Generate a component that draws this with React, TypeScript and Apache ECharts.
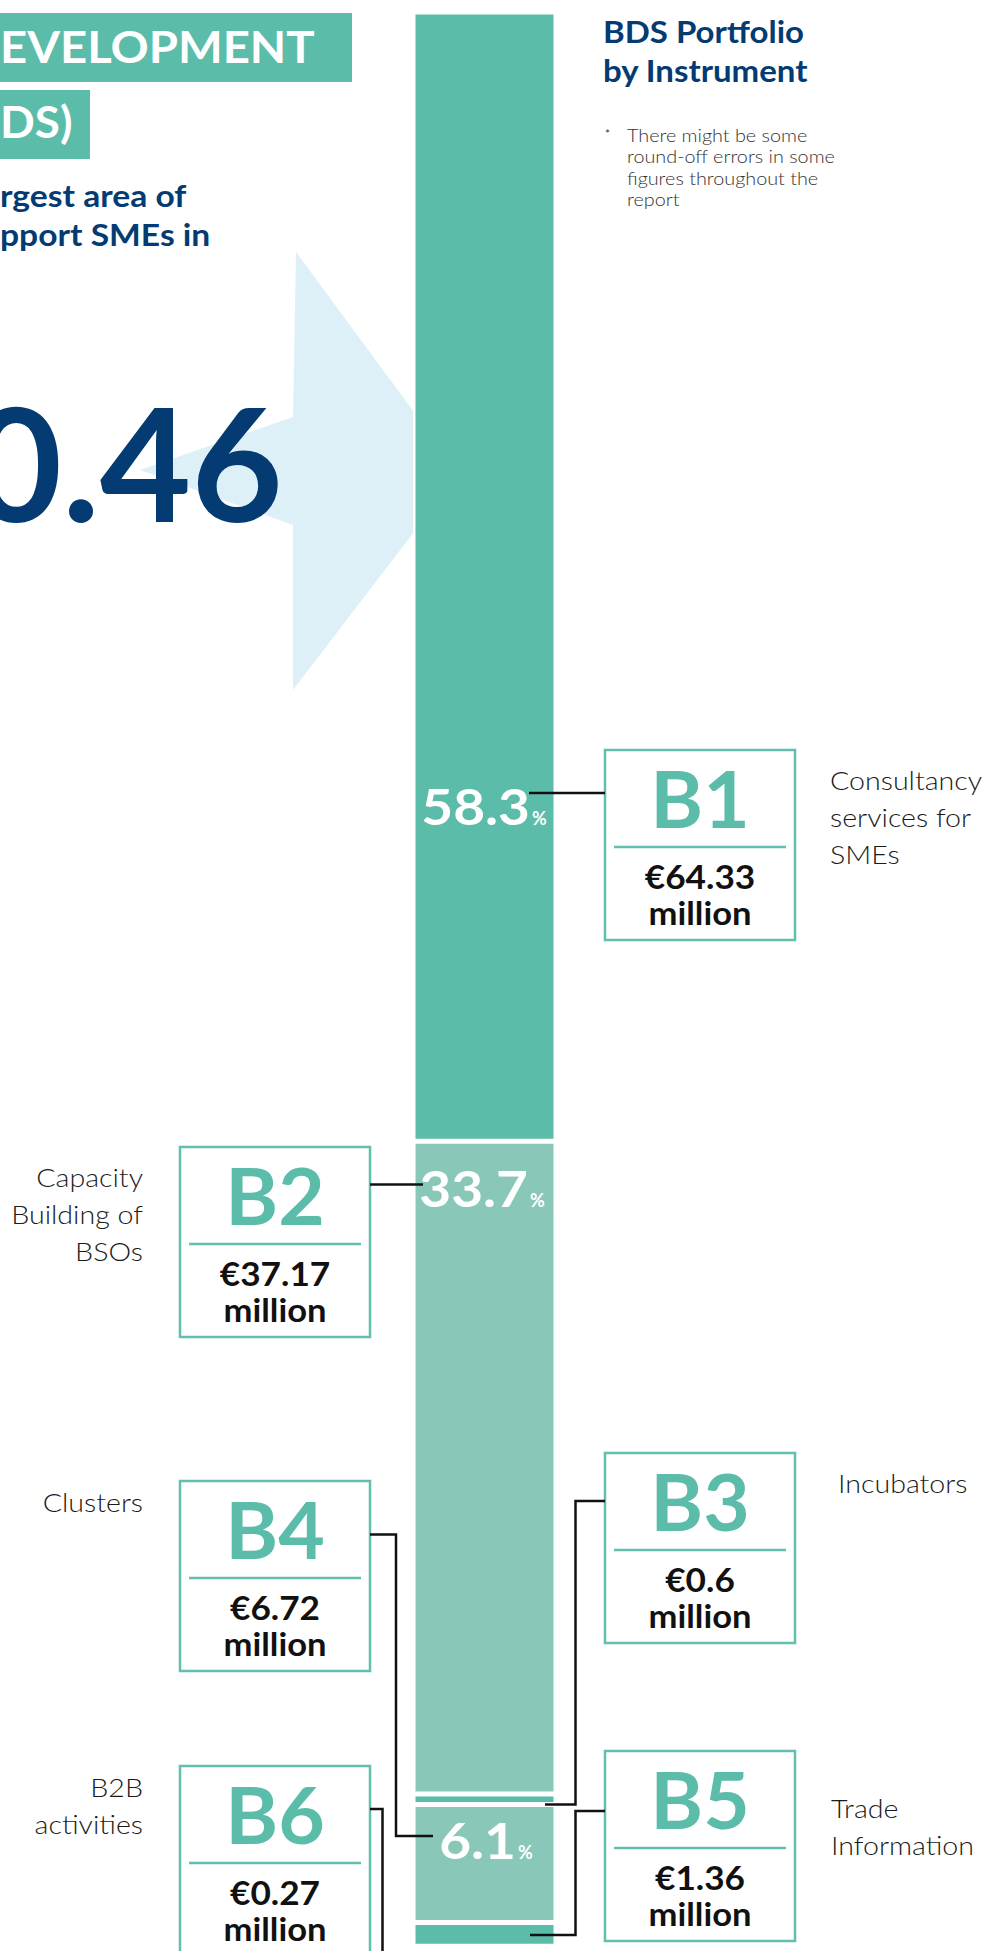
import React, { useEffect, useRef } from "react";
import * as echarts from "echarts";

// ---- data ----
const codes = ["B1", "B2", "B3", "B4", "B5", "B6"];
const amounts = [64.33, 37.17, 0.6, 6.72, 1.36, 0.27]; // € million
const amountLabels = ["€64.33", "€37.17", "€0.6", "€6.72", "€1.36", "€0.27"];
const shareLabels = ["58.3", "33.7", "", "6.1", "", ""]; // % shown on the bar
const instruments = [
  ["Consultancy", "services for", "SMEs"],
  ["Capacity", "Building of", "BSOs"],
  ["Incubators"],
  ["Clusters"],
  ["Trade", "Information"],
  ["B2B", "activities"],
];
const segColors = ["#5bbcaa", "#89c8b9", "#5bbcaa", "#89c8b9", "#5bbcaa", "#89c8b9"];
const totalFigure = "0.46";
const headerLines = ["EVELOPMENT", "DS)"];
const subLines = ["rgest area of", "pport SMEs in"];
const titleLines = ["BDS Portfolio", "by Instrument"];
const noteLines = ["There might be some", "round-off errors in some", "figures throughout the", "report"];

const FONT = "Lato, 'Noto Sans', sans-serif";
const TEAL = "#5bbcaa";
const NAVY = "#033b72";

function T(
  text: string,
  x: number,
  base: number,
  size: number,
  weight: number | string,
  fill: string,
  align = "left",
  z = 5,
  sx = 1
) {
  return {
    type: "text",
    z,
    x,
    y: base - 0.387 * size,
    scaleX: sx,
    silent: true,
    style: {
      text,
      fill,
      font: `${weight} ${size}px ${FONT}`,
      textAlign: align,
      align,
      textVerticalAlign: "middle",
      verticalAlign: "middle",
    },
  };
}

export default function App() {
  const ref = useRef<HTMLDivElement>(null);
  useEffect(() => {
    document.body.style.margin = "0";
    document.body.style.overflow = "hidden";
    const chart = echarts.init(ref.current!, null, { renderer: "svg" });
    const total = amounts.reduce((a, b) => a + b, 0);

    // layout of annotation boxes
    const boxes = [
      { x: 605, y: 750, side: "right", lx: 830, lb: 790 },
      { x: 180, y: 1147, side: "left", lx: 143, lb: 1187 },
      { x: 605, y: 1453, side: "right", lx: 838, lb: 1493 },
      { x: 180, y: 1481, side: "left", lx: 143, lb: 1512 },
      { x: 605, y: 1751, side: "right", lx: 831, lb: 1818 },
      { x: 180, y: 1766, side: "left", lx: 143, lb: 1797 },
    ];
    const shareBase = [825, 1207, 0, 1859, 0, 0];
    const shareRight = [530, 528, 0, 516, 0, 0];
    const connectors = [
      [[529, 793], [605, 793]],
      [[370, 1184.5], [423, 1184.5]],
      [[605, 1501], [575.5, 1501], [575.5, 1804.5], [545, 1804.5]],
      [[370, 1534.5], [396, 1534.5], [396, 1836], [433, 1836]],
      [[605, 1811], [575.5, 1811], [575.5, 1935], [530, 1935]],
      [[370, 1809], [382.5, 1809], [382.5, 1970]],
    ];

    const g: any[] = [];
    // background arrow
    g.push({
      type: "polygon",
      z: 0,
      silent: true,
      shape: { points: [[296, 252], [414, 412], [414, 532], [293, 690], [293, 525], [140, 470], [293, 417]] },
      style: { fill: "#def0f7" },
    });
    // header banners
    g.push({ type: "rect", z: 1, silent: true, shape: { x: 0, y: 13, width: 352, height: 69 }, style: { fill: TEAL } });
    g.push({ type: "rect", z: 1, silent: true, shape: { x: 0, y: 90, width: 90, height: 69 }, style: { fill: TEAL } });
    g.push(T(headerLines[0], 0, 63.3, 44, 700, "#fff", "left", 5, 1.075));
    g.push(T(headerLines[1], 0, 138.3, 44, 700, "#fff", "left", 5, 1.04));
    g.push(T(subLines[0], 0, 207, 30, 700, NAVY, "left", 5, 1.12));
    g.push(T(subLines[1], 0, 246, 30, 700, NAVY, "left", 5, 1.12));
    g.push(T(totalFigure, 283, 522, 158, 700, NAVY, "right", 3));
    // title + note
    g.push(T(titleLines[0], 603, 43.3, 30, 700, NAVY, "left", 5, 1.1));
    g.push(T(titleLines[1], 603, 81.7, 30, 700, NAVY, "left", 5, 1.1));
    g.push(T("*", 605, 138, 12, 400, "#333"));
    noteLines.forEach((l, i) => g.push(T(l, 627, 141.5 + i * 21.5, 18, 300, "#333", "left", 5, 1.1)));

    // connectors
    connectors.forEach((pts) =>
      g.push({ type: "polyline", z: 10, silent: true, shape: { points: pts }, style: { stroke: "#111", lineWidth: 2.5, fill: null } })
    );

    // boxes
    boxes.forEach((b, i) => {
      g.push({ type: "rect", z: 6, silent: true, shape: { x: b.x, y: b.y, width: 190, height: 190 }, style: { fill: "#fff", stroke: "#62bfae", lineWidth: 2.5 } });
      g.push(T(codes[i], b.x + 95, b.y + 78, 78, 700, TEAL, "center", 7, 1.03));
      g.push({ type: "line", z: 7, silent: true, shape: { x1: b.x + 9, y1: b.y + 97, x2: b.x + 181, y2: b.y + 97 }, style: { stroke: "#62bfae", lineWidth: 2.5 } });
      g.push(T(amountLabels[i], b.x + 95, b.y + 139, 32, 700, "#111", "center", 7, 1.1));
      g.push(T("million", b.x + 95, b.y + 175, 32, 700, "#111", "center", 7, 1.08));
      instruments[i].forEach((l, k) =>
        g.push(T(l, b.lx, b.lb + k * 37, 26, 300, "#1a1a1a", b.side === "left" ? "right" : "left", 5, 1.1))
      );
      if (shareLabels[i]) {
        g.push(T(shareLabels[i], shareRight[i], shareBase[i], 50, 700, "#fff", "right", 12, 1.1));
        g.push(T("%", shareRight[i] + 2, shareBase[i], 18, 700, "#fff", "left", 12));
      }
    });

    chart.setOption({
      animation: false,
      grid: { left: 413, top: 12, width: 143, height: 1944 },
      xAxis: { type: "category", data: ["BDS"], show: false },
      yAxis: { type: "value", inverse: true, min: 0, max: total, show: false },
      series: codes.map((c, i) => ({
        type: "bar",
        name: c,
        stack: "bds",
        barWidth: "100%",
        silent: true,
        data: [amounts[i]],
        itemStyle: { color: segColors[i], borderColor: "#fff", borderWidth: 2.5 },
      })),
      graphic: { elements: g },
    });
    return () => chart.dispose();
  }, []);
  return <div ref={ref} style={{ position: "absolute", left: 0, top: 0, width: 987, height: 1951 }} />;
}
